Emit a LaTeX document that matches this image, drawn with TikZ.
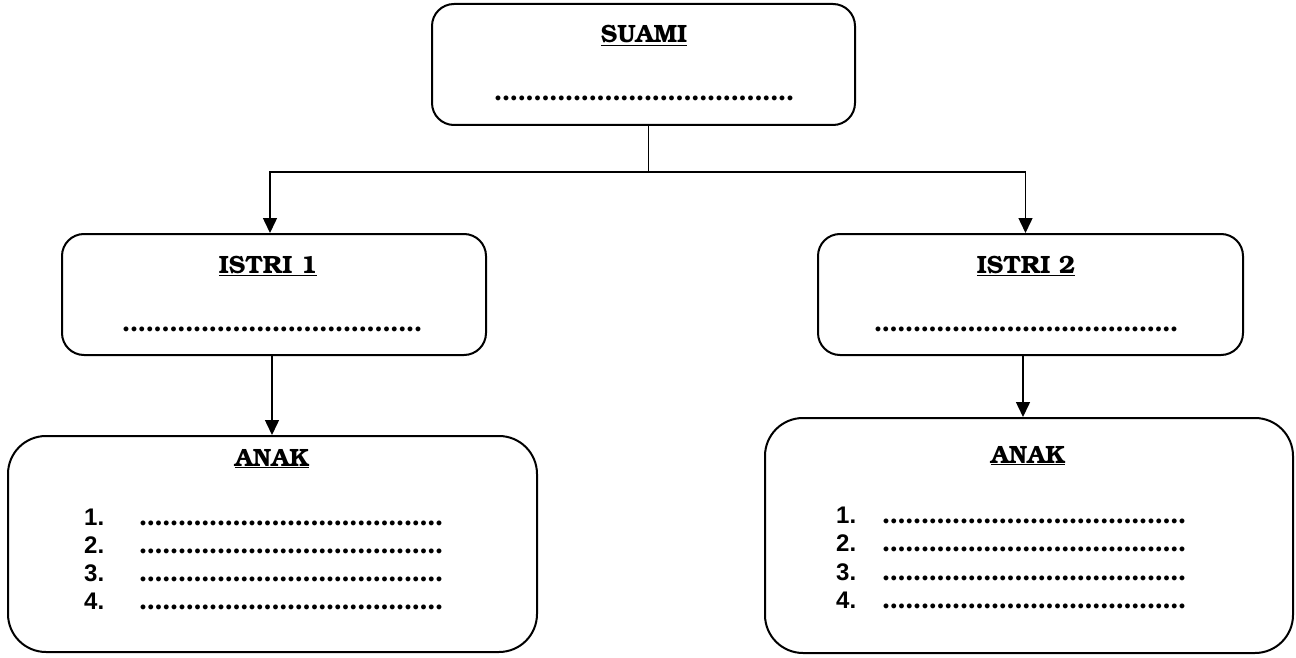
\documentclass[tikz,border=0pt]{standalone}
\usepackage{fontspec}
\setmainfont{texgyrebonum}[Extension=.otf, UprightFont=*-regular, BoldFont=*-bold]
\newfontfamily\numfont{Liberation Sans}
\usetikzlibrary{arrows.meta,calc}
\newcommand{\dotrow}[1]{\hbox to #1{\xleaders\hbox to 7.7pt{\hss.\hss}\hfill}}
\newcommand{\uline}[1]{\underline{#1}}
\tikzset{
  x=1pt, y=-1pt,
  box/.style={draw, line width=2pt, rounded corners=#1, inner sep=0pt},
  title/.style={font=\bfseries\fontsize{25}{28}\selectfont, anchor=base, inner sep=0pt},
  dots/.style={font=\bfseries\fontsize{27}{28}\selectfont, anchor=base west, inner sep=0pt},
  num/.style={font=\numfont\bfseries\fontsize{24}{26}\selectfont, anchor=base west, inner sep=0pt},
  arr/.style={line width=1.5pt, -{Triangle[length=15pt,width=14pt]}},
  thin/.style={line width=1pt}
}
\begin{document}
\begin{tikzpicture}
\useasboundingbox (0,0) rectangle (1296,658);
% boxes
\node[box=22pt, minimum width=423pt, minimum height=121pt] (suami) at (643.5,64.5) {};
\node[box=22pt, minimum width=424pt, minimum height=121pt] (istri1) at (274,294.5) {};
\node[box=22pt, minimum width=425pt, minimum height=121pt] (istri2) at (1030.5,294.5) {};
\node[box=38pt, minimum width=529pt, minimum height=216pt] (anak1) at (272.5,544) {};
\node[box=38pt, minimum width=528pt, minimum height=235pt] (anak2) at (1029,535.5) {};
% texts
\node[title] (t0) at (644,43) {\uline{SUAMI}};
\node[dots] (d0) at (494,101) {\dotrow{300pt}};
\node[title] (t1) at (268,273) {\uline{ISTRI 1}};
\node[dots] (d1) at (122,331) {\dotrow{300pt}};
\node[title] (t2) at (1026,273) {\uline{ISTRI 2}};
\node[dots] (d2) at (874,331) {\dotrow{304pt}};
\node[title] (t3) at (272,466) {\uline{ANAK}};
\node[title] (t4) at (1028,463) {\uline{ANAK}};
% left list
\node[num] (n11) at (84,525) {1.};
\node[num] (n12) at (84,553) {2.};
\node[num] (n13) at (84,581) {3.};
\node[num] (n14) at (84,609) {4.};
\node[dots] (l11) at (139,525) {\dotrow{304pt}};
\node[dots] (l12) at (139,553) {\dotrow{304pt}};
\node[dots] (l13) at (139,581) {\dotrow{304pt}};
\node[dots] (l14) at (139,609) {\dotrow{304pt}};
% right list
\node[num] (n21) at (836,523) {1.};
\node[num] (n22) at (836,551) {2.};
\node[num] (n23) at (836,580) {3.};
\node[num] (n24) at (836,608) {4.};
\node[dots] (l21) at (882,523) {\dotrow{304pt}};
\node[dots] (l22) at (882,551) {\dotrow{304pt}};
\node[dots] (l23) at (882,580) {\dotrow{304pt}};
\node[dots] (l24) at (882,608) {\dotrow{304pt}};
% connectors
\coordinate (j) at (648,172);
\draw[thin] (suami.south -| j) -- (j);
\draw[thin, arr] (j) -| ([xshift=-4pt]istri1.north);
\draw[thin, arr] (j) -| ([xshift=-5pt]istri2.north);
\draw[arr] ([xshift=-2pt]istri1.south) -- ([xshift=-2pt]istri1.south |- anak1.north);
\draw[arr] ([xshift=-7.5pt]istri2.south) -- ([xshift=-7.5pt]istri2.south |- anak2.north);
\end{tikzpicture}
\end{document}
